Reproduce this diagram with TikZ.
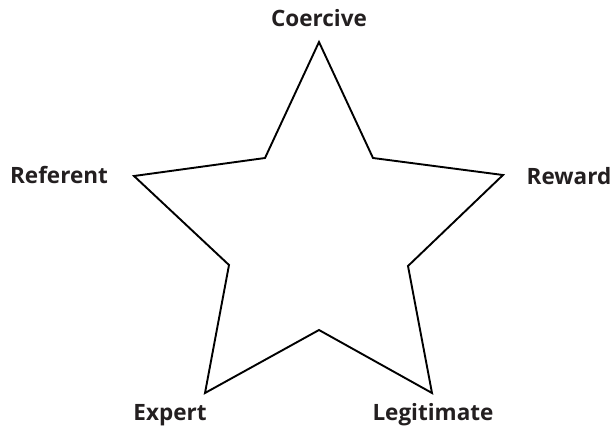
\documentclass[tikz,border=0pt]{standalone}
\usepackage{fontspec}
\setmainfont{Open Sans}
\definecolor{txt}{HTML}{231F20}
\begin{document}
\begin{tikzpicture}[x=1pt,y=-1pt,
  lbl/.style={font=\fontsize{22.5}{26}\selectfont\bfseries, text=txt, inner sep=0pt},
  edge/.style={draw=black, line width=1.9pt, line join=miter}]
\useasboundingbox (0,0) rectangle (613,434);
\coordinate (p1) at (319,42);
\coordinate (i1) at (373,158);
\coordinate (p2) at (503,175);
\coordinate (i2) at (408,266);
\coordinate (p3) at (432,393);
\coordinate (i3) at (319,330);
\coordinate (p4) at (205,393);
\coordinate (i4) at (229,265);
\coordinate (p5) at (134,176);
\coordinate (i5) at (265,158);
\draw[edge] (p1) -- (i1) -- (p2) -- (i2) -- (p3) -- (i3) -- (p4) -- (i4) -- (p5) -- (i5) -- cycle;
\node[lbl] (coercive) at (319,18) {Coercive};
\node[lbl] (referent) at (59,175) {Referent};
\node[lbl] (reward) at (569,176) {Reward};
\node[lbl] (expert) at (170,415) {Expert};
\node[lbl] (legit) at (433,415) {Legitimate};
\end{tikzpicture}
\end{document}
